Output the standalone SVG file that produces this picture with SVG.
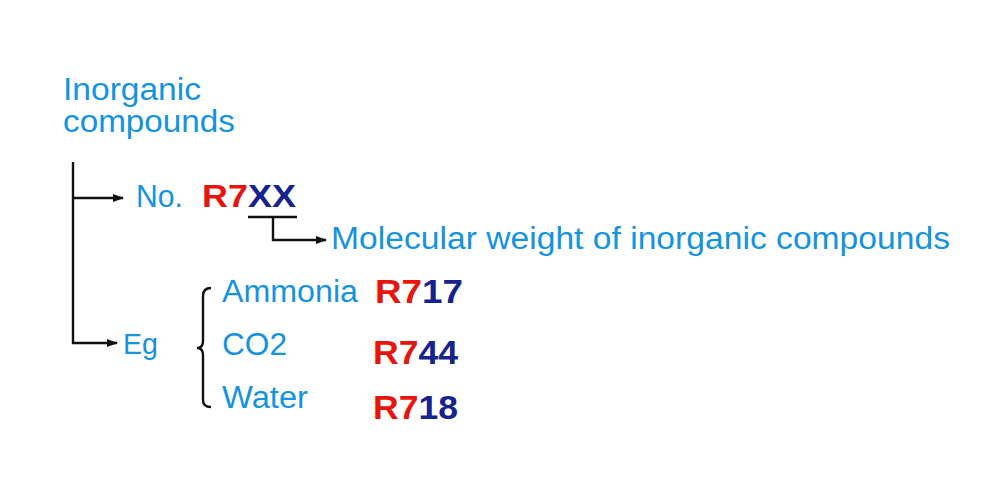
<svg xmlns="http://www.w3.org/2000/svg" width="1000" height="500" viewBox="0 0 1000 500">
<style>
.t{font-family:"Liberation Sans",Arial,sans-serif;fill:#1592e0}
.r{font-family:"Liberation Sans",Arial,sans-serif;font-weight:bold;fill:#e8150f}
.b{fill:#17238c}
.ln{fill:none;stroke:#111;stroke-width:2.4}
</style>
<defs>
<marker id="ah" markerWidth="11" markerHeight="10" refX="10" refY="5" orient="auto" markerUnits="userSpaceOnUse">
<path d="M0,1 L11,5 L0,9 Z" fill="#111"/>
</marker>
</defs>
<rect width="1000" height="500" fill="#fff"/>
<g id="connectors">
<path class="ln" d="M73,162 V343 H117" marker-end="url(#ah)"/>
<path class="ln" d="M73,198 H123" marker-end="url(#ah)"/>
<path class="ln" d="M248,217 H297"/>
<path class="ln" d="M273,217 V240 H326" marker-end="url(#ah)"/>
<path class="ln" d="M211,288 Q203,288 203,296 V341 Q203,348 197,348 Q203,348 203,355 V400 Q203,407 211,407"/>
</g>
<g id="title">
<text class="t" x="63" y="100" font-size="31" textLength="138" lengthAdjust="spacingAndGlyphs">Inorganic</text>
<text class="t" x="63" y="132" font-size="31" textLength="172" lengthAdjust="spacingAndGlyphs">compounds</text>
</g>
<g id="no">
<text class="t" x="136" y="207" font-size="31" textLength="47" lengthAdjust="spacingAndGlyphs">No.</text>
<text class="r" x="202" y="207" font-size="32" textLength="94" lengthAdjust="spacingAndGlyphs">R7<tspan class="b">XX</tspan></text>
</g>
<g id="molecular">
<text class="t" x="331" y="249" font-size="31" textLength="619" lengthAdjust="spacingAndGlyphs">Molecular weight of inorganic compounds</text>
</g>
<g id="eg">
<text class="t" x="123" y="354" font-size="29" textLength="35" lengthAdjust="spacingAndGlyphs">Eg</text>
</g>
<g id="ammonia">
<text class="t" x="222" y="302" font-size="31" textLength="136" lengthAdjust="spacingAndGlyphs">Ammonia</text>
<text class="r" x="375" y="303" font-size="33" textLength="88" lengthAdjust="spacingAndGlyphs">R7<tspan class="b">17</tspan></text>
</g>
<g id="co2">
<text class="t" x="222" y="355" font-size="31" textLength="65" lengthAdjust="spacingAndGlyphs">CO2</text>
<text class="r" x="373" y="364" font-size="33" textLength="85" lengthAdjust="spacingAndGlyphs">R7<tspan class="b">44</tspan></text>
</g>
<g id="water">
<text class="t" x="222" y="408" font-size="31" textLength="86" lengthAdjust="spacingAndGlyphs">Water</text>
<text class="r" x="373" y="419" font-size="33" textLength="85" lengthAdjust="spacingAndGlyphs">R7<tspan class="b">18</tspan></text>
</g>
</svg>
